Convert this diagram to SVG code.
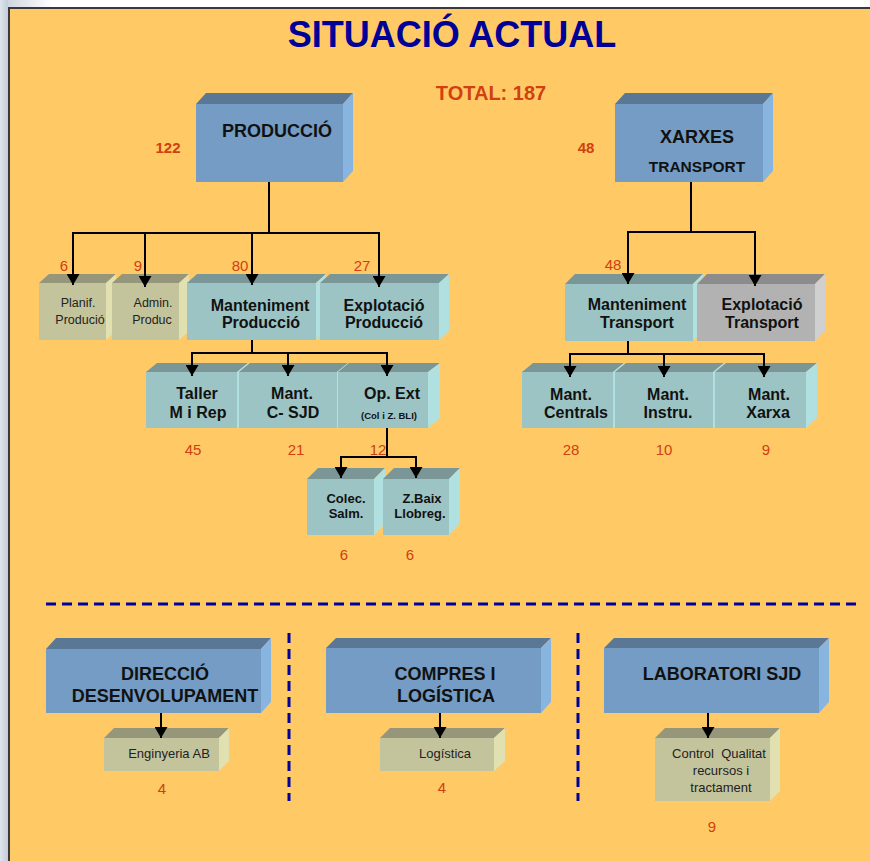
<svg xmlns="http://www.w3.org/2000/svg" width="870" height="861" viewBox="0 0 870 861">
<defs>
<linearGradient id="lg" x1="0" y1="0" x2="1" y2="0"><stop offset="0" stop-color="#dfe5ec"/><stop offset="1" stop-color="#c4ccd8"/></linearGradient>
<linearGradient id="tg" x1="0" y1="0" x2="1" y2="0"><stop offset="0" stop-color="#c8d0da"/><stop offset="0.06" stop-color="#ffffff"/><stop offset="1" stop-color="#ffffff"/></linearGradient>
<marker id="ah" viewBox="0 0 11 13" refX="11" refY="6.5" markerWidth="11" markerHeight="13" markerUnits="userSpaceOnUse" orient="auto"><path d="M0,0 L11,6.5 L0,13 z" fill="#000"/></marker>
<style>
.t{font-family:"Liberation Sans",Arial,sans-serif;text-anchor:middle}
.b{font-weight:bold;fill:#111}
.r{fill:#222}
.n{fill:#D04010}
.pre{white-space:pre}
.bl .f{fill:#749CC4}.bl .tp{fill:#5A7896}.bl .rt{fill:#88B4E0}
.te .f{fill:#9CC4C4}.te .tp{fill:#7A9696}.te .rt{fill:#B0E0E0}
.kh .f{fill:#C4C49C}.kh .tp{fill:#96967A}.kh .rt{fill:#E0E0B0}
.gr .f{fill:#B2B2B2}.gr .tp{fill:#8C8C8C}.gr .rt{fill:#D0D0D0}
.cn line{stroke:#000;stroke-width:2;fill:none}
.arr{marker-end:url(#ah)}
.dash{stroke:#000099;stroke-width:3;stroke-dasharray:10 6;fill:none}
</style>
</defs>
<rect x="0" y="0" width="870" height="861" fill="#FFCA66"/>
<rect x="0" y="0" width="870" height="7" fill="url(#tg)"/>
<rect x="0" y="0" width="8" height="861" fill="url(#lg)"/>
<rect x="8" y="7" width="862" height="2" fill="#3a3a3a"/>
<rect x="8" y="7" width="2" height="854" fill="#3a3a3a"/>

<text class="t" x="452" y="47" font-size="36" font-weight="bold" fill="#000099">SITUACIÓ ACTUAL</text>
<text class="t" x="491" y="100" font-size="20" font-weight="bold" fill="#D04010">TOTAL: 187</text>

<g id="produccio" class="bl">
<polygon class="tp" points="196,104 206,93 353,93 343,104"/><polygon class="rt" points="343,104 353,93 353,171 343,182"/><rect class="f" x="196" y="104" width="147" height="78"/>
<text class="t b" x="277" y="137" font-size="18">PRODUCCIÓ</text>
<text class="t n" x="168" y="153" font-size="15" font-weight="bold">122</text>
</g>
<g id="xarxes" class="bl">
<polygon class="tp" points="615,104 625,93 773,93 763,104"/><polygon class="rt" points="763,104 773,93 773,171 763,182"/><rect class="f" x="615" y="104" width="148" height="78"/>
<text class="t b" x="697" y="143" font-size="18">XARXES</text>
<text class="t b" x="697" y="172" font-size="15.5">TRANSPORT</text>
<text class="t n" x="586" y="153" font-size="15" font-weight="bold">48</text>
</g>

<g id="planif" class="kh">
<polygon class="tp" points="39,283 49,274 116,274 106,283"/><polygon class="rt" points="106,283 116,274 116,331 106,340"/><rect class="f" x="39" y="283" width="67" height="57"/>
<text class="t r" x="78" y="307" font-size="12.5">Planif.</text>
<text class="t r" x="80" y="324" font-size="12.5">Produció</text>
<text class="t n" x="64" y="271" font-size="15">6</text>
</g>
<g id="admin" class="kh">
<polygon class="tp" points="112,283 122,274 189,274 179,283"/><polygon class="rt" points="179,283 189,274 189,331 179,340"/><rect class="f" x="112" y="283" width="67" height="57"/>
<text class="t r" x="153" y="307" font-size="12.5">Admin.</text>
<text class="t r" x="152" y="324" font-size="12.5">Produc</text>
<text class="t n" x="138" y="271" font-size="15">9</text>
</g>
<g id="mantprod" class="te">
<polygon class="tp" points="187,283 197,274 326,274 316,283"/><polygon class="rt" points="316,283 326,274 326,331 316,340"/><rect class="f" x="187" y="283" width="129" height="57"/>
<text class="t b" x="260" y="311" font-size="16">Manteniment</text>
<text class="t b" x="261" y="328" font-size="16">Producció</text>
<text class="t n" x="240" y="271" font-size="15">80</text>
</g>
<g id="explprod" class="te">
<polygon class="tp" points="320,283 330,274 449,274 439,283"/><polygon class="rt" points="439,283 449,274 449,331 439,340"/><rect class="f" x="320" y="283" width="119" height="57"/>
<text class="t b" x="384" y="311" font-size="16">Explotació</text>
<text class="t b" x="384" y="328" font-size="16">Producció</text>
<text class="t n" x="362" y="271" font-size="15">27</text>
</g>

<g id="manttransp" class="te">
<polygon class="tp" points="565,284 575,274 703,274 693,284"/><polygon class="rt" points="693,284 703,274 703,331 693,341"/><rect class="f" x="565" y="284" width="128" height="57"/>
<text class="t b" x="637" y="310" font-size="16">Manteniment</text>
<text class="t b" x="637" y="328" font-size="16">Transport</text>
<text class="t n" x="613" y="270" font-size="15">48</text>
</g>
<g id="expltransp" class="gr">
<polygon class="tp" points="697,284 707,274 825,274 815,284"/><polygon class="rt" points="815,284 825,274 825,331 815,341"/><rect class="f" x="697" y="284" width="118" height="57"/>
<text class="t b" x="762" y="310" font-size="16">Explotació</text>
<text class="t b" x="762" y="328" font-size="16">Transport</text>
</g>

<g id="taller" class="te">
<polygon class="tp" points="146,372 157,363 248,363 237,372"/><polygon class="rt" points="237,372 248,363 248,419 237,428"/><rect class="f" x="146" y="372" width="91" height="56"/>
<text class="t b" x="197" y="399" font-size="16">Taller</text>
<text class="t b" x="198" y="418" font-size="16">M i Rep</text>
<text class="t n" x="193" y="455" font-size="15">45</text>
</g>
<g id="mantc" class="te">
<polygon class="tp" points="239,372 250,363 348,363 337,372"/><polygon class="rt" points="337,372 348,363 348,419 337,428"/><rect class="f" x="239" y="372" width="98" height="56"/>
<text class="t b" x="292" y="399" font-size="16">Mant.</text>
<text class="t b" x="293" y="418" font-size="16">C- SJD</text>
<text class="t n" x="296" y="455" font-size="15">21</text>
</g>
<g id="opext" class="te">
<polygon class="tp" points="338,372 349,363 440,363 428,372"/><polygon class="rt" points="428,372 440,363 440,418 428,428"/><rect class="f" x="338" y="372" width="90" height="56"/>
<text class="t b" x="392" y="399" font-size="16">Op. Ext</text>
<text class="t b" x="389" y="419" font-size="9.5">(Col i Z. BLI)</text>
<text class="t n" x="378" y="455" font-size="15">12</text>
</g>

<g id="mantcentrals" class="te">
<polygon class="tp" points="522,372 533,363 624,363 613,372"/><polygon class="rt" points="613,372 624,363 624,419 613,428"/><rect class="f" x="522" y="372" width="91" height="56"/>
<text class="t b" x="571" y="400" font-size="16">Mant.</text>
<text class="t b" x="576" y="418" font-size="16">Centrals</text>
<text class="t n" x="571" y="455" font-size="15">28</text>
</g>
<g id="mantinstru" class="te">
<polygon class="tp" points="615,372 626,363 724,363 713,372"/><polygon class="rt" points="713,372 724,363 724,419 713,428"/><rect class="f" x="615" y="372" width="98" height="56"/>
<text class="t b" x="668" y="400" font-size="16">Mant.</text>
<text class="t b" x="668" y="418" font-size="16">Instru.</text>
<text class="t n" x="664" y="455" font-size="15">10</text>
</g>
<g id="mantxarxa" class="te">
<polygon class="tp" points="715,372 726,363 817,363 806,372"/><polygon class="rt" points="806,372 817,363 817,418 806,428"/><rect class="f" x="715" y="372" width="91" height="56"/>
<text class="t b" x="769" y="400" font-size="16">Mant.</text>
<text class="t b" x="768" y="418" font-size="16">Xarxa</text>
<text class="t n" x="766" y="455" font-size="15">9</text>
</g>

<g id="colec" class="te">
<polygon class="tp" points="307,479 318,468 385,468 374,479"/><polygon class="rt" points="374,479 385,468 385,524 374,535"/><rect class="f" x="307" y="479" width="67" height="56"/>
<text class="t b" x="346" y="503" font-size="13">Colec.</text>
<text class="t b" x="346" y="518" font-size="13">Salm.</text>
<text class="t n" x="344" y="560" font-size="15">6</text>
</g>
<g id="zbaix" class="te">
<polygon class="tp" points="383,479 394,468 460,468 449,479"/><polygon class="rt" points="449,479 460,468 460,523 449,535"/><rect class="f" x="383" y="479" width="66" height="56"/>
<text class="t b" x="422" y="503" font-size="13">Z.Baix</text>
<text class="t b" x="420" y="518" font-size="13">Llobreg.</text>
<text class="t n" x="410" y="560" font-size="15">6</text>
</g>

<g id="separators">
<line class="dash" x1="46" y1="604" x2="858" y2="604"/>
<line class="dash" x1="289" y1="633" x2="289" y2="801"/>
<line class="dash" x1="578" y1="633" x2="578" y2="801"/>
</g>

<g id="direccio" class="bl">
<polygon class="tp" points="46,649 56,638 271,638 261,649"/><polygon class="rt" points="261,649 271,638 271,702 261,713"/><rect class="f" x="46" y="649" width="215" height="64"/>
<text class="t b" x="165" y="680" font-size="18">DIRECCIÓ</text>
<text class="t b" x="165" y="702" font-size="18">DESENVOLUPAMENT</text>
</g>
<g id="compres" class="bl">
<polygon class="tp" points="326,648 336,638 551,638 541,648"/><polygon class="rt" points="541,648 551,638 551,702 541,713"/><rect class="f" x="326" y="648" width="215" height="65"/>
<text class="t b" x="445" y="680" font-size="18">COMPRES I</text>
<text class="t b" x="446" y="702" font-size="18">LOGÍSTICA</text>
</g>
<g id="laboratori" class="bl">
<polygon class="tp" points="604,648 614,638 829,638 819,648"/><polygon class="rt" points="819,648 829,638 829,702 819,713"/><rect class="f" x="604" y="648" width="215" height="65"/>
<text class="t b" x="722" y="680" font-size="18">LABORATORI SJD</text>
</g>

<g id="enginyeria" class="kh">
<polygon class="tp" points="104,738 114,728 229,728 219,738"/><polygon class="rt" points="219,738 229,728 229,761 219,771"/><rect class="f" x="104" y="738" width="115" height="33"/>
<text class="t r" x="169" y="758" font-size="13">Enginyeria AB</text>
<text class="t n" x="162" y="794" font-size="15">4</text>
</g>
<g id="logistica" class="kh">
<polygon class="tp" points="380,738 390,728 505,728 494,738"/><polygon class="rt" points="494,738 505,728 505,761 494,771"/><rect class="f" x="380" y="738" width="114" height="33"/>
<text class="t r" x="445" y="758" font-size="13">Logística</text>
<text class="t n" x="442" y="793" font-size="15">4</text>
</g>
<g id="control" class="kh">
<polygon class="tp" points="655,738 665,728 780,728 770,738"/><polygon class="rt" points="770,738 780,728 780,791 770,801"/><rect class="f" x="655" y="738" width="115" height="63"/>
<text class="t r pre" x="719" y="758" font-size="13">Control  Qualitat</text>
<text class="t r" x="721" y="775" font-size="13">recursos i</text>
<text class="t r" x="721" y="792" font-size="13">tractament</text>
<text class="t n" x="712" y="832" font-size="15">9</text>
</g>

<g id="connectors" class="cn">
<line x1="269" y1="182" x2="269" y2="233"/>
<line x1="72" y1="233" x2="380" y2="233"/>
<line class="arr" x1="73" y1="233" x2="73" y2="285"/>
<line class="arr" x1="145" y1="233" x2="145" y2="287"/>
<line class="arr" x1="252" y1="233" x2="252" y2="285"/>
<line class="arr" x1="379" y1="233" x2="379" y2="287"/>
<line x1="691" y1="182" x2="691" y2="232"/>
<line x1="627" y1="232" x2="756" y2="232"/>
<line class="arr" x1="628" y1="232" x2="628" y2="284"/>
<line class="arr" x1="755" y1="232" x2="755" y2="286"/>
<line x1="252" y1="340" x2="252" y2="353"/>
<line x1="191" y1="353" x2="388" y2="353"/>
<line class="arr" x1="192" y1="353" x2="192" y2="376"/>
<line class="arr" x1="288" y1="353" x2="288" y2="376"/>
<line class="arr" x1="387" y1="353" x2="387" y2="376"/>
<line x1="628" y1="341" x2="628" y2="354"/>
<line x1="569" y1="354" x2="765" y2="354"/>
<line class="arr" x1="570" y1="354" x2="570" y2="377"/>
<line class="arr" x1="664" y1="354" x2="664" y2="377"/>
<line class="arr" x1="764" y1="354" x2="764" y2="377"/>
<line x1="387" y1="428" x2="387" y2="457"/>
<line x1="340" y1="457" x2="417" y2="457"/>
<line class="arr" x1="341" y1="457" x2="341" y2="478"/>
<line class="arr" x1="416" y1="457" x2="416" y2="478"/>
<line class="arr" x1="161" y1="713" x2="161" y2="738"/>
<line class="arr" x1="440" y1="713" x2="440" y2="738"/>
<line class="arr" x1="708" y1="713" x2="708" y2="738"/>
</g>
</svg>
